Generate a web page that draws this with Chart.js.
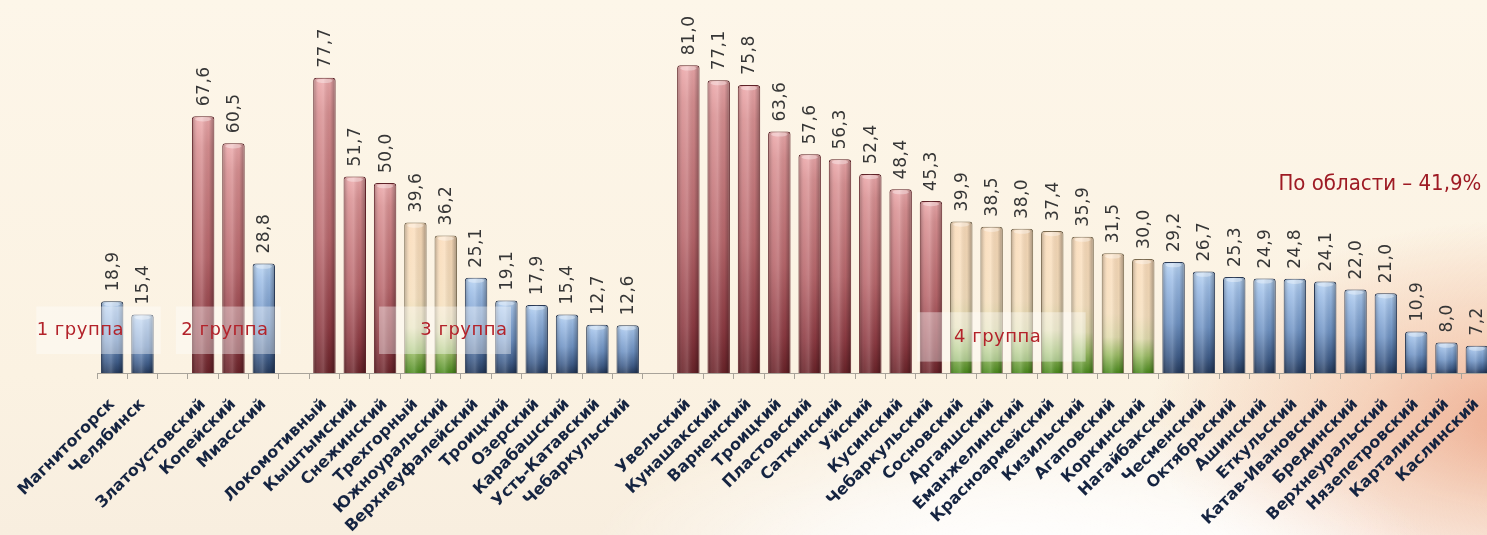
<!DOCTYPE html>
<html>
<head>
<meta charset="utf-8">
<script src="https://cdn.jsdelivr.net/npm/chart.js@4.4.1/dist/chart.umd.min.js"></script>
<style>
  html, body { margin: 0; padding: 0; overflow: hidden; width: 1487px; height: 535px; }
  body {
    background:
      radial-gradient(ellipse 420px 150px at 1010px 560px, rgba(255,255,255,0.95) 0%, rgba(255,255,255,0.6) 45%, rgba(255,255,255,0) 100%),
      radial-gradient(ellipse 380px 200px at 1530px 420px, rgba(236,160,130,0.85) 0%, rgba(240,180,150,0.5) 45%, rgba(245,200,170,0) 100%),
      radial-gradient(ellipse 600px 140px at 1300px 560px, rgba(255,255,255,0.9) 0%, rgba(255,255,255,0) 100%),
      linear-gradient(180deg, #fdf6e9 0%, #fbf2e2 70%, #f8eedf 100%);
  }
  #wrap { position: absolute; left: 0; top: 0; width: 1492px; height: 535px; }
</style>
</head>
<body>
<div id="wrap"><canvas id="c" width="1492" height="535"></canvas></div>
<script>
// ---- data ----
const categories = ['Магнитогорск','Челябинск','','Златоустовский','Копейский','Миасский','',
  'Локомотивный','Кыштымский','Снежинский','Трехгорный','Южноуральский','Верхнеуфалейский','Троицкий','Озерский','Карабашский','Усть-Катавский','Чебаркульский','',
  'Увельский','Кунашакский','Варненский','Троицкий','Пластовский','Саткинский','Уйский','Кусинский','Чебаркульский','Сосновский','Аргаяшский','Еманжелинский','Красноармейский','Кизильский','Агаповский','Коркинский','Нагайбакский','Чесменский','Октябрьский','Ашинский','Еткульский','Катав-Ивановский','Брединский','Верхнеуральский','Нязепетровский','Карталинский','Каслинский'];
const values = [18.9, 15.4, null, 67.6, 60.5, 28.8, null,
  77.7, 51.7, 50.0, 39.6, 36.2, 25.1, 19.1, 17.9, 15.4, 12.7, 12.6, null,
  81.0, 77.1, 75.8, 63.6, 57.6, 56.3, 52.4, 48.4, 45.3, 39.9, 38.5, 38.0, 37.4, 35.9, 31.5, 30.0, 29.2, 26.7, 25.3, 24.9, 24.8, 24.1, 22.0, 21.0, 10.9, 8.0, 7.2];
// colour tier per bar: r = red, p = peach/green, b = blue
const tiers = ['b','b','', 'r','r','b','',
  'r','r','r','p','p','b','b','b','b','b','b','',
  'r','r','r','r','r','r','r','r','r','p','p','p','p','p','p','p','b','b','b','b','b','b','b','b','b','b','b'];
const groupLabels = ['1 группа', '2 группа', '3 группа', '4 группа'];
const regionLabel = 'По области – 41,9%';

// ---- layout of annotations (in scale units) ----
const groupBoxes = [
  { from: -2.5, to: 1.6,   yTop: 17.5, yBot: 5, textAt: -1.05, textY: 11.3 },
  { from: 2.1,  to: 5.55,  yTop: 17.5, yBot: 5, textAt: 3.72,  textY: 11.3 },
  { from: 8.8,  to: 13.15, yTop: 17.5, yBot: 5, textAt: 11.6,  textY: 11.3 },
  { from: 26.55, to: 32.1, yTop: 16,   yBot: 3, textAt: 29.2,  textY: 9.3 }
];

const palettes = {
  r: [[0,'#eda9ab'],[0.12,'#d99092'],[0.55,'#b9676c'],[0.85,'#8d3a42'],[1,'#6a2329']],
  p: [[0,'#fbdcba'],[0.5,'#f6dfbd'],[0.7,'#e2dcae'],[0.85,'#9dbd66'],[1,'#4a8a1c']],
  b: [[0,'#b7d3f2'],[0.15,'#9dbde6'],[0.55,'#6f93c4'],[0.85,'#3f5d8a'],[1,'#253b5e']]
};
const borders = { r: '#5e2228', p: '#7a6a50', b: '#2a3a55' };

function barFill(ctx) {
  const chart = ctx.chart;
  const t = tiers[ctx.dataIndex];
  const v = values[ctx.dataIndex];
  if (!chart.chartArea || v == null || !palettes[t]) return '#999';
  const y = chart.scales.y;
  const top = y.getPixelForValue(v), base = y.getPixelForValue(0);
  const g = chart.ctx.createLinearGradient(0, top, 0, base);
  palettes[t].forEach(s => g.addColorStop(s[0], s[1]));
  return g;
}

const overlayPlugin = {
  id: 'overlay',
  afterDatasetsDraw(chart) {
    const ctx = chart.ctx;
    const meta = chart.getDatasetMeta(0);
    const xs = chart.scales.x, ys = chart.scales.y;
    meta.data.forEach((bar, i) => {
      const v = values[i];
      if (v == null) return;
      const w = bar.width, left = bar.x - w / 2, top = bar.y, bot = bar.base;
      ctx.save();
      const g = ctx.createLinearGradient(left, 0, left + w, 0);
      g.addColorStop(0, 'rgba(0,0,0,0.30)');
      g.addColorStop(0.25, 'rgba(255,255,255,0.10)');
      g.addColorStop(0.45, 'rgba(255,255,255,0.18)');
      g.addColorStop(0.75, 'rgba(0,0,0,0.05)');
      g.addColorStop(1, 'rgba(0,0,0,0.35)');
      ctx.fillStyle = g;
      ctx.fillRect(left + 1, top + 1, w - 2, bot - top - 1);
      ctx.fillStyle = 'rgba(255,255,255,0.35)';
      ctx.beginPath();
      ctx.ellipse(bar.x, top + 3, w / 2 - 3, 2.2, 0, 0, Math.PI * 2);
      ctx.fill();
      ctx.restore();

      ctx.save();
      ctx.translate(bar.x + 1, top - 10);
      ctx.rotate(-Math.PI / 2);
      ctx.font = '17px "DejaVu Sans"';
      ctx.letterSpacing = '0.5px';
      ctx.fillStyle = '#363636';
      ctx.textAlign = 'left';
      ctx.textBaseline = 'middle';
      ctx.fillText(v.toFixed(1).replace('.', ','), 0, 0);
      ctx.restore();
    });
    groupBoxes.forEach((gb, k) => {
      const x0 = xs.getPixelForValue(gb.from), x1 = xs.getPixelForValue(gb.to);
      const y0 = ys.getPixelForValue(gb.yTop), y1 = ys.getPixelForValue(gb.yBot);
      ctx.save();
      ctx.fillStyle = 'rgba(255,255,255,0.38)';
      ctx.fillRect(x0, y0, x1 - x0, y1 - y0);
      ctx.font = '18px "DejaVu Sans"';
      ctx.letterSpacing = '0.5px';
      ctx.fillStyle = '#b3222a';
      ctx.textAlign = 'center';
      ctx.textBaseline = 'middle';
      ctx.fillText(groupLabels[k], xs.getPixelForValue(gb.textAt), ys.getPixelForValue(gb.textY));
      ctx.restore();
    });
    ctx.save();
    ctx.font = '22px "DejaVu Sans Condensed"';
    ctx.fillStyle = '#9e1b24';
    ctx.textAlign = 'right';
    ctx.textBaseline = 'middle';
    ctx.fillText(regionLabel, xs.getPixelForValue(45.15), ys.getPixelForValue(49.6));
    ctx.restore();
  }
};

new Chart(document.getElementById('c'), {
  type: 'bar',
  data: {
    labels: categories,
    datasets: [{
      data: values,
      backgroundColor: barFill,
      borderColor: (ctx) => borders[tiers[ctx.dataIndex]] || '#333',
      borderWidth: 1,
      borderSkipped: 'bottom',
      borderRadius: { topLeft: 3, topRight: 3, bottomLeft: 0, bottomRight: 0 },
      barPercentage: 0.74,
      categoryPercentage: 1.0
    }]
  },
  options: {
    responsive: false,
    animation: false,
    events: [],
    layout: { padding: { left: 97, right: 0, top: 0, bottom: 0 } },
    plugins: { legend: { display: false }, tooltip: { enabled: false } },
    scales: {
      y: { display: false, min: 0, max: 98.2 },
      x: {
        offset: true,
        grid: { display: true, offset: true, drawOnChartArea: false, drawTicks: true, tickLength: 6, color: '#a8a39a', lineWidth: 1 },
        border: { display: true, color: '#a8a39a', width: 1 },
        ticks: {
          autoSkip: false, maxRotation: 45, minRotation: 45, padding: 16,
          color: '#152441',
          font: { family: '"DejaVu Sans"', size: 16, weight: 'bold' }
        },
        afterFit(scale) { scale.height = 162; scale.paddingLeft = 0; scale.paddingRight = 0; }
      }
    }
  },
  plugins: [overlayPlugin]
});
</script>
</body>
</html>
